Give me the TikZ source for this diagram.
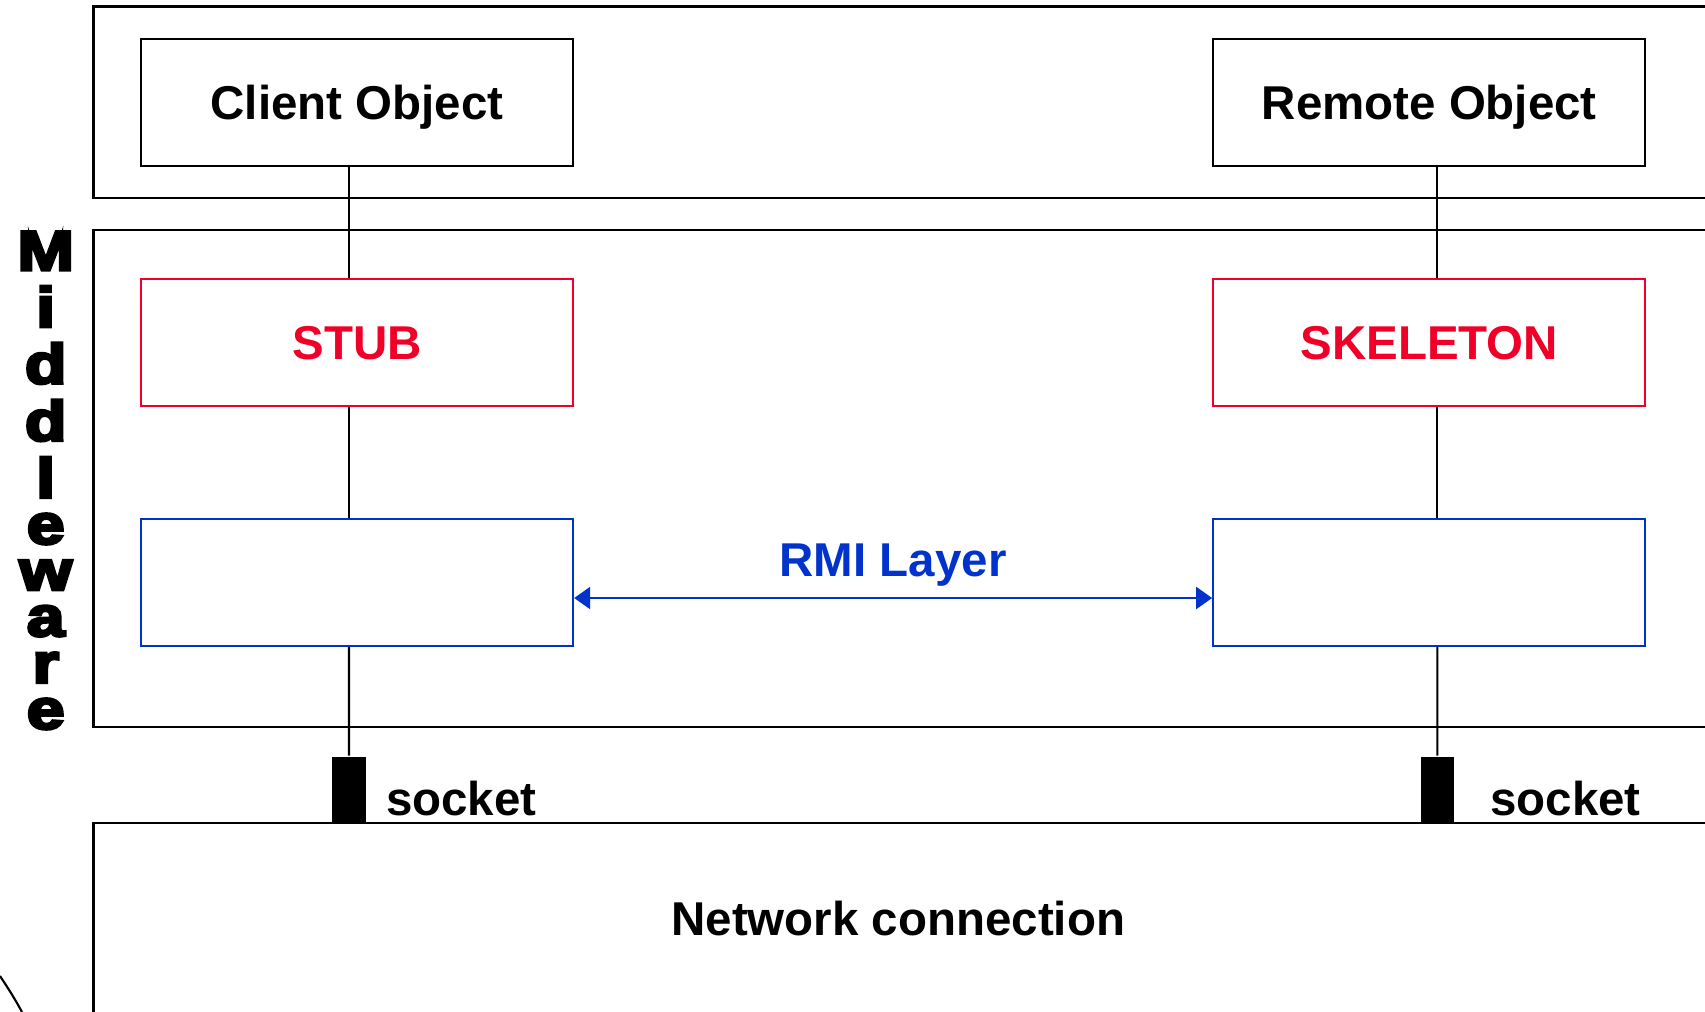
\documentclass[tikz,border=0pt]{standalone}
\usepackage{fontspec}
\setmainfont{Liberation Sans}
\newfontfamily\heavyfont[FakeBold=5]{Liberation Sans Bold}
\usepackage{graphicx}
\usetikzlibrary{arrows.meta}
\usetikzlibrary{positioning}
\definecolor{stubred}{RGB}{240,0,40}
\definecolor{rmiblue}{RGB}{0,51,204}
\newcommand{\mwstack}{\vbox{\baselineskip=-1pt\lineskip=4.5pt
  \halign{\hfil##\hfil\cr M\cr i\cr d\cr d\cr l\cr e\cr w\cr a\cr r\cr e\cr}}}
\tikzset{obj/.style = {draw, line width=0.6pt, minimum width=4.32cm, minimum height=1.27cm,
                       text depth=0pt, font=\bfseries\fontsize{13.5}{16}\selectfont}}
\tikzset{proxy/.style = {obj, draw=stubred, text=stubred}}
\tikzset{rmibox/.style = {obj, draw=rmiblue}}
\tikzset{sockblock/.style = {fill=black, minimum width=0.33cm, minimum height=0.65cm, inner sep=0pt}}
\tikzset{lbl/.style = {font=\bfseries\fontsize{13.5}{16}\selectfont, inner sep=0pt}}
\tikzset{mwtext/.style = {font=\heavyfont\fontsize{16}{16}\selectfont, inner sep=0pt}}
\tikzset{rmiarrow/.style = {rmiblue, line width=0.7pt,
                            {Triangle[length=1.6mm,width=2.2mm]}-{Triangle[length=1.6mm,width=2.2mm]}}}

\begin{document}
\begin{tikzpicture}[x=0.01cm, y=-0.01cm, line width=0.6pt]
      \useasboundingbox (0,0) rectangle (1705,1012);

      % layers, open to the right
      \draw (1705,6.5) -| (93.5,198) -- (1705,198);
      \draw (1705,230) -| (93.5,726.7) -- (1705,726.7);
      \draw (1705,822.7) -| (93.5,1012);
      \draw (0,976) .. controls (8,988) and (15,999) .. (22,1012);

      \node [obj] (client) at (357,102.5) {Client Object};
      \node [obj] (remote) at (1429.3,102.5) {Remote Object};
      \node [proxy] (stub) at (357,342.5) {STUB};
      \node [proxy] (skeleton) at (1429.3,342.5) {SKELETON};
      \node [rmibox] (lrmi) at (357,582.4) {};
      \node [rmibox] (rrmi) at (1429.3,582.4) {};
      \node [sockblock, anchor=south] (lsock) at (349,822.7) {};
      \node [sockblock, anchor=south] (rsock) at (1437.3,822.7) {};

      \foreach \a/\b/\s in {client/stub/-0.08, stub/lrmi/-0.08, remote/skeleton/0.08, skeleton/rrmi/0.08}
        \draw ([xshift=\s cm]\a.south) -- ([xshift=\s cm]\b.north);
      \draw ([xshift=-0.08cm]lrmi.south) -- (lsock.north);
      \draw ([xshift=0.08cm]rrmi.south) -- (rsock.north);

      \draw [rmiarrow] ([yshift=-0.156cm]lrmi.east) -- ([yshift=-0.156cm]rrmi.west)
            node [lbl, midway, anchor=base, yshift=0.217cm, text=rmiblue] (rmilbl) {RMI Layer};

      \node [lbl, anchor=base west] (lsocklbl) at (385,815) {socket};
      \node [lbl, anchor=base west] (rsocklbl) at (1489.3,815) {socket};
      \node [lbl, anchor=base] (net) at (898.3,935) {Network connection};

      \node [mwtext, anchor=north] (mw) at (45.7,230.5) {\scalebox{1.2}[1]{\mwstack}};
\end{tikzpicture}
\end{document}
